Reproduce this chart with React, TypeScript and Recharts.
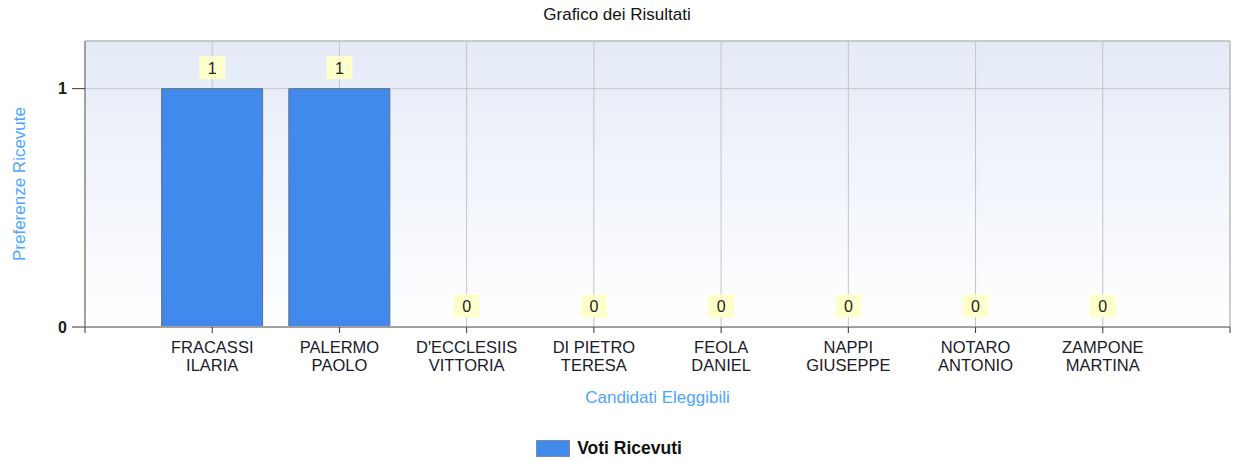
import {
  ComposedChart,
  Bar,
  Scatter,
  XAxis,
  YAxis,
  CartesianGrid,
  Legend,
  ReferenceArea,
} from 'recharts';

const cognomi = ['FRACASSI', 'PALERMO', "D'ECCLESIIS", 'DI PIETRO', 'FEOLA', 'NAPPI', 'NOTARO', 'ZAMPONE'];
const nomi = ['ILARIA', 'PAOLO', 'VITTORIA', 'TERESA', 'DANIEL', 'GIUSEPPE', 'ANTONIO', 'MARTINA'];
const voti = [1, 1, 0, 0, 0, 0, 0, 0];
const yTicks = [0, 1];
const xTicks = [0, 1, 2, 3, 4, 5, 6, 7, 8, 9];

const data = cognomi.map((c, i) => ({
  pos: i + 1,
  cognome: c,
  nome: nomi[i],
  voti: voti[i],
}));

const FONT = '"Liberation Sans", Arial, sans-serif';
const BAR_COLOR = '#418aec';
const AXIS_BLUE = '#4ea5ff';

function CandidatoTick(props: any) {
  const { x, y, payload } = props;
  const d = data.find((r) => r.pos === payload.value);
  if (!d) return null;
  return (
    <text x={x} y={y} textAnchor="middle" fill="#1a1a2a" fontSize={16.5} fontFamily={FONT}>
      <tspan x={x} y={y + 18}>{d.cognome}</tspan>
      <tspan x={x} y={y + 36}>{d.nome}</tspan>
    </text>
  );
}

// yellow value box drawn above each bar top
function ValueBox(props: any) {
  const { cx, cy, payload } = props;
  const by = cy - 21;
  return (
    <g>
      <rect x={cx - 13} y={by - 11.5} width={26} height={23} fill="#ffffcc" />
      <text x={cx} y={by + 6} textAnchor="middle" fontSize={16} fontFamily={FONT} fill="#222">
        {payload.voti}
      </text>
    </g>
  );
}

function LegendBox() {
  return (
    <div
      style={{
        display: 'flex',
        justifyContent: 'center',
        alignItems: 'center',
        height: 26,
        paddingRight: 12,
        fontFamily: FONT,
        fontWeight: 'bold',
        fontSize: 17.5,
        color: '#111',
      }}
    >
      <span
        style={{
          display: 'inline-block',
          width: 32,
          height: 15,
          background: BAR_COLOR,
          border: '1px solid #7d8ea3',
          marginRight: 7,
        }}
      />
      Voti Ricevuti
    </div>
  );
}

export default function App() {
  return (
    <div style={{ position: 'absolute', left: 0, top: 0, width: 1234, height: 461, background: '#fff' }}>
      <div
        style={{
          position: 'absolute',
          top: 5,
          width: 1234,
          textAlign: 'center',
          fontFamily: FONT,
          fontSize: 17,
          color: '#111',
        }}
      >
        Grafico dei Risultati
      </div>
      <ComposedChart
        width={1234}
        height={461}
        data={data}
        margin={{ top: 41, right: 4, left: 0, bottom: 0 }}
      >
        <defs>
          <linearGradient id="bgGrad" x1="0" y1="0" x2="0" y2="1">
            <stop offset="0%" stopColor="#e4ebf7" />
            <stop offset="100%" stopColor="#ffffff" />
          </linearGradient>
        </defs>
        <CartesianGrid stroke="#c4c4c8" fill="url(#bgGrad)" />
        <ReferenceArea x1={0} x2={9} y1={0} y2={1.2} fill="none" stroke="#b8b8bc" ifOverflow="visible" />
        <XAxis
          type="number"
          dataKey="pos"
          domain={[0, 9]}
          ticks={xTicks}
          interval={0}
          height={108}
          tickSize={6}
          tickMargin={2}
          axisLine={{ stroke: '#a0a0a0', strokeWidth: 2 }}
          tickLine={{ stroke: '#333' }}
          tick={<CandidatoTick />}
          label={(p: any) => {
            const vb = p.viewBox;
            return (
              <text
                x={vb.x + vb.width / 2}
                y={vb.y + 76}
                textAnchor="middle"
                fill={AXIS_BLUE}
                fontSize={17}
                fontFamily={FONT}
              >
                Candidati Eleggibili
              </text>
            );
          }}
        />
        <YAxis
          domain={[0, 1.2]}
          ticks={yTicks}
          width={85}
          tickSize={13}
          tickMargin={5}
          axisLine={{ stroke: '#a0a0a0', strokeWidth: 2 }}
          tickLine={{ stroke: '#333' }}
          tick={{ fill: '#1a1a1a', fontSize: 16, fontWeight: 'bold', fontFamily: FONT }}
          label={(p: any) => {
            const vb = p.viewBox;
            const cy = vb.y + vb.height / 2;
            return (
              <text
                x={25}
                y={cy}
                transform={`rotate(-90, 25, ${cy})`}
                textAnchor="middle"
                fill={AXIS_BLUE}
                fontSize={17}
                fontFamily={FONT}
              >
                Preferenze Ricevute
              </text>
            );
          }}
        />
        <Legend verticalAlign="bottom" content={<LegendBox />} wrapperStyle={{ height: 26 }} />
        <Bar
          dataKey="voti"
          name="Voti Ricevuti"
          barSize={101}
          fill={BAR_COLOR}
          stroke="#5f6f84"
          strokeWidth={1}
          isAnimationActive={false}
        />
        <Scatter
          dataKey="voti"
          legendType="none"
          shape={<ValueBox />}
          isAnimationActive={false}
        />
      </ComposedChart>
    </div>
  );
}
